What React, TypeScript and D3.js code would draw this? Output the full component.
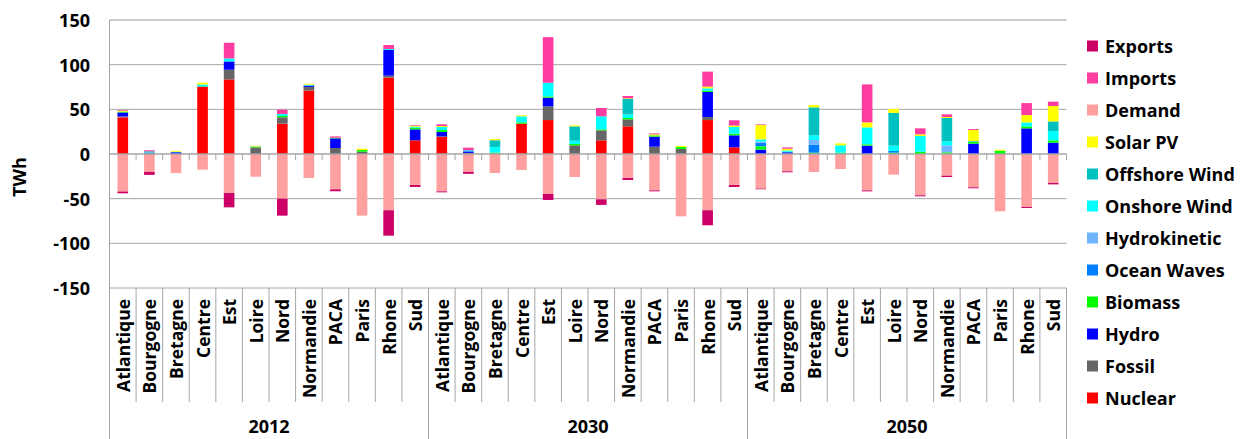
import React from "react";
import * as d3 from "d3";

const regions = ["Atlantique", "Bourgogne", "Bretagne", "Centre", "Est", "Loire", "Nord", "Normandie", "PACA", "Paris", "Rhone", "Sud"];
const years = ["2012", "2030", "2050"];

// values per series, 2012 | 2030 | 2050, regions in order above
const nuclear = [41, 0, 0, 75.5, 83.5, 0, 34, 71, 0, 0, 85.5, 15.3, 19, 0, 0, 34, 38, 0, 15.3, 31, 0, 0, 38, 7.5, 0, 0, 0, 0, 0, 0, 0, 0, 0, 0, 0, 0];
const fossil = [1, 1, 0, 0, 10.8, 7.3, 7.1, 4.1, 6.7, 2.6, 2.2, 0, 0.7, 1.2, 0.6, 0, 15.3, 9.7, 11.2, 7.8, 8.2, 5.6, 3.4, 0, 0, 0, 0, 0, 0, 0, 0, 0, 0, 0, 0, 0];
const hydro = [4.5, 0.5, 2, 0, 9.3, 0, 0, 1.5, 10.8, 0, 28.7, 12.3, 4.9, 1.5, 0, 0, 9.7, 0, 0, 0, 11.2, 0, 28, 13.4, 4.9, 1.9, 0, 0, 9.3, 0, 0, 0, 11.6, 0, 28.7, 12.7];
const biomass = [1, 0, 0, 0, 0, 0.7, 1.5, 0, 0.7, 1.9, 0, 1.9, 2.2, 0, 1, 1.5, 1.5, 1.5, 1.1, 1.5, 1.5, 2.2, 1.5, 1.9, 3.7, 0, 1.5, 1.5, 1.5, 1.5, 2.6, 1.9, 2.2, 3.7, 2.2, 2.6];
const oceanWaves = [0, 0, 0, 0, 0, 0, 0, 0, 0, 0, 0, 0, 0, 0.6, 0, 0, 0, 0, 0, 0, 0, 0, 0, 0, 4.1, 0.6, 9, 0, 0, 1.9, 0, 0, 0, 0, 0, 0];
const hydrokinetic = [0, 0, 0, 0, 0, 0, 0, 0, 0, 0, 0, 0, 0, 0.6, 0, 0, 0, 0, 0, 0, 0, 0, 0, 0, 1.1, 0, 5.2, 0, 0, 0, 0, 7.8, 0, 0, 0, 0];
const onshore = [0, 0.5, 0.5, 2.3, 3.4, 0, 2.2, 1, 0, 0, 1.1, 1.1, 3.4, 0, 6.3, 6.7, 15.3, 3.7, 14.6, 4.1, 0, 0, 2.6, 7.5, 2.6, 1.5, 5.2, 8.2, 19, 6, 17.5, 4.5, 0, 0, 4.5, 10.4];
const offshore = [0, 1, 0, 0, 0, 0.5, 0, 0, 0, 0, 0, 0, 0, 0.6, 7.5, 0, 0, 16, 0, 17.2, 0, 0, 0, 0, 0, 0, 31.3, 0, 0, 36.6, 0, 26.1, 0.7, 0, 0, 10.8];
const solar = [1, 0, 1, 2, 0, 0.7, 0, 1, 0, 1.5, 0, 1.1, 1.1, 0, 1.5, 1.1, 0, 1.1, 0, 0.7, 1.1, 1.1, 1.9, 1.5, 16, 1.9, 2.6, 2.2, 5.6, 4.5, 1.9, 1.1, 12.3, 1.1, 8.2, 17.2];
const demand = [-42, -20, -21.3, -17.5, -43.7, -25.4, -50, -26.9, -39.5, -69, -63, -34.7, -41.8, -20, -21.3, -17.9, -44.8, -25.7, -50.7, -26.9, -40.7, -69.8, -63, -34.7, -38.8, -19.4, -20.1, -16.8, -40.7, -23.1, -46.3, -24.3, -37.3, -64.2, -59.3, -32.5];
const imports = [0.8, 1.2, 0, 0, 17.5, 0, 4.9, 0, 1.5, 0, 4.5, 0.7, 1.9, 2.6, 0, 0, 51, 0, 9.3, 2.6, 1.1, 0, 16.8, 6, 0.7, 1.5, 0, 0, 42.5, 0, 6.7, 3, 1.1, 0, 13.4, 4.9];
const exportsTWh = [-2, -3.4, 0, 0, -16, 0, -19, 0, -2.2, 0, -28.4, -2.2, -1.1, -2.2, 0, 0, -6.7, 0, -6.3, -2.2, -1.1, 0, -16.8, -2.2, -0.7, -1.1, 0, 0, -1.1, 0, -1.1, -1.5, -1.1, 0, -1.1, -1.5];

const yTicks = [150, 100, 50, 0, -50, -100, -150];

const series = [
  { name: "Nuclear", color: "#ff0000", values: nuclear },
  { name: "Fossil", color: "#666666", values: fossil },
  { name: "Hydro", color: "#0000ff", values: hydro },
  { name: "Biomass", color: "#00ff00", values: biomass },
  { name: "Ocean Waves", color: "#0080ff", values: oceanWaves },
  { name: "Hydrokinetic", color: "#6eb4ff", values: hydrokinetic },
  { name: "Onshore Wind", color: "#00ffff", values: onshore },
  { name: "Offshore Wind", color: "#00c0c0", values: offshore },
  { name: "Solar PV", color: "#ffff00", values: solar },
  { name: "Demand", color: "#ffa0a0", values: demand },
  { name: "Imports", color: "#ff3c9f", values: imports },
  { name: "Exports", color: "#cc0066", values: exportsTWh },
];

const legendOrder = ["Exports", "Imports", "Demand", "Solar PV", "Offshore Wind", "Onshore Wind", "Hydrokinetic", "Ocean Waves", "Biomass", "Hydro", "Fossil", "Nuclear"];

const W = 1242;
const H = 439;
const left = 109.5;
const right = 1066.5;
const top = 20;
const bottom = 288;
const font = "'Open Sans', 'Liberation Sans', sans-serif";
const grid = "#a6a6a6";

export default function App() {
  const cats = years.flatMap((yr) => regions.map((r) => `${yr}|${r}`));
  const rows = cats.map((c, i) => {
    const row: Record<string, number | string> = { key: c };
    series.forEach((s) => (row[s.name] = s.values[i]));
    return row;
  });

  const stacked = d3
    .stack<any>()
    .keys(series.map((s) => s.name))
    .offset(d3.stackOffsetDiverging)(rows);

  const x = d3.scaleBand().domain(cats).range([left, right]).paddingInner(0.6).paddingOuter(0.3);
  const step = x.step();
  const y = d3.scaleLinear().domain([-150, 150]).range([bottom, top]);
  const colorOf = new Map(series.map((s) => [s.name, s.color]));

  const boundaries = d3.range(cats.length + 1).map((i) => left + i * step);

  return (
    <div style={{ position: "absolute", left: 0, top: 0 }}>
      <svg width={W} height={H} style={{ display: "block", background: "#fff" }} fontFamily={font} fontWeight={700}>
        {/* gridlines */}
        {yTicks.filter((t) => t !== 0).map((t) => (
          <line key={t} x1={left} x2={right} y1={y(t)} y2={y(t)} stroke={grid} strokeWidth={t === 150 ? 1.6 : 1} opacity={t === 150 ? 0.75 : 1} />
        ))}
        {/* y tick labels */}
        {yTicks.map((t) => (
          <text key={t} x={90} y={y(t)} textAnchor="end" dominantBaseline="central" fontSize={18} fill="#000">
            {t}
          </text>
        ))}
        <text transform={`translate(19,177) rotate(-90)`} textAnchor="middle" dominantBaseline="central" fontSize={18}>
          TWh
        </text>

        {/* bars */}
        {stacked.map((layer) => (
          <g key={layer.key} fill={colorOf.get(layer.key)}>
            {layer.map((d, i) => {
              const h = Math.abs(y(d[0]) - y(d[1]));
              if (h < 0.01) return null;
              return <rect key={i} x={x(cats[i])} y={Math.min(y(d[0]), y(d[1]))} width={x.bandwidth()} height={h} />;
            })}
          </g>
        ))}

        {/* zero axis with ticks */}
        <line x1={left} x2={right} y1={y(0)} y2={y(0)} stroke={grid} strokeWidth={1.3} />
        {boundaries.map((bx, i) => (
          <line key={i} x1={bx} x2={bx} y1={y(0)} y2={y(0) + 6} stroke={grid} strokeWidth={1} />
        ))}

        {/* left axis */}
        <line x1={left} x2={left} y1={top} y2={H} stroke={grid} strokeWidth={1} />

        {/* category label box lines */}
        {boundaries.map((bx, i) => (
          <line key={i} x1={bx} x2={bx} y1={bottom} y2={i % 12 === 0 ? H : 402} stroke={grid} strokeWidth={1} />
        ))}

        {/* category labels */}
        {cats.map((c) => (
          <text
            key={c}
            transform={`translate(${x(c)! + x.bandwidth() / 2},299) rotate(-90)`}
            textAnchor="end"
            dominantBaseline="central"
            fontSize={17.5}
          >
            {c.split("|")[1]}
          </text>
        ))}

        {/* year labels */}
        {years.map((yr, i) => (
          <text key={yr} x={left + (i * 12 + 6) * step} y={426} textAnchor="middle" dominantBaseline="central" fontSize={18}>
            {yr}
          </text>
        ))}

        {/* legend */}
        {legendOrder.map((name, i) => (
          <g key={name} transform={`translate(1087,${46 + i * 32})`}>
            <rect x={0} y={-5.5} width={11} height={11} fill={colorOf.get(name)} />
            <text x={18} y={0} dominantBaseline="central" fontSize={18}>
              {name}
            </text>
          </g>
        ))}
      </svg>
    </div>
  );
}
